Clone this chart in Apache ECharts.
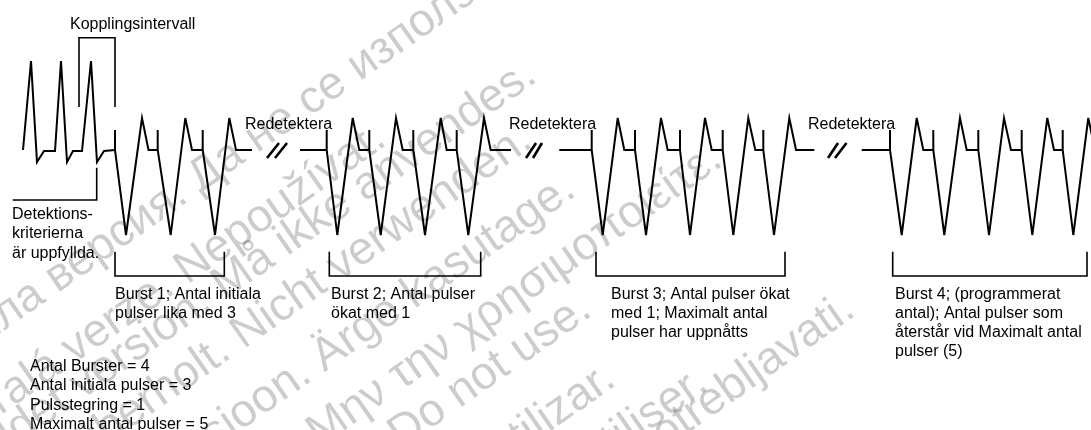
<!DOCTYPE html>
<html><head><meta charset="utf-8">
<style>html,body{margin:0;padding:0;background:#fff}#c{width:1091px;height:430px}</style>
<script src="https://cdn.jsdelivr.net/npm/echarts@6/dist/echarts.min.js"></script>
</head><body><div id="c"></div>
<script>
// time (x) and amplitude (y, baseline = 0) values
const intrinsicTrace = [[23,0],[31,89],[37,-12],[44,-1],[55,-1],[61,89],[67,-12],[73,-1],[82,-1],[91,89],[97,-12],[104,-1],[115,0]];
const burst1Trace = [[115,0],[115,20],[115,0],[126,-85],[142,32],[148.5,0],[157.7,0],[157.7,20],[157.7,0],[170.7,-85],[185.3,32],[192,0],[202.7,0],[202.7,20],[202.7,0],[215,-85],[229.3,32],[236,0],[252,0]];
const burst2Trace = [[300,0],[326.7,0],[326.7,20],[326.7,0],[337.3,-85],[352.7,32],[359.3,0],[369.3,0],[369.3,20],[369.3,0],[380.7,-85],[396,32],[402.7,0],[413.3,0],[413.3,20],[413.3,0],[425,-85],[440.7,32],[446.7,0],[456.7,0],[456.7,20],[456.7,0],[468.3,-85],[484,32],[490.7,0],[511,0]];
const burst3Trace = [[559.3,0],[591.7,0],[591.7,20],[591.7,0],[602.7,-85],[617.7,32],[624.3,0],[635,0],[635,20],[635,0],[646,-85],[661,32],[667.7,0],[680,0],[680,20],[680,0],[690,-85],[705,32],[711.7,0],[722.7,0],[722.7,20],[722.7,0],[733.3,-85],[748.3,32],[755.3,0],[763.3,0],[763.3,20],[763.3,0],[774,-85],[789.3,32],[796,0],[814.3,0]];
const burst4Trace = [[861.7,0],[890,0],[890,20],[890,0],[901.7,-85],[916.7,32],[923.3,0],[933.3,0],[933.3,20],[933.3,0],[944.3,-85],[960,32],[966.7,0],[978.3,0],[978.3,20],[978.3,0],[989,-85],[1004,32],[1011,0],[1021.7,0],[1021.7,20],[1021.7,0],[1032.3,-85],[1047.3,32],[1054,0],[1062.7,0],[1062.7,20],[1062.7,0],[1073.3,-85],[1088.3,32],[1095,0]];
const breakStrokes = [
  [[267,-8],[279,7]],[[275,-8],[287,7]],
  [[526,-8],[536,7]],[[533,-8],[542,7]],
  [[828,-8],[838,7]],[[835,-8],[846.5,7]]
];
const couplingBracket = [[79,43],[79,112.3],[115,112.3],[115,43]];
const detectionBracket = [[96.7,-17.7],[96.7,-50],[12.7,-50]];
const burstRanges = [[115,224.3],[329.3,480.7],[596,785],[892.7,1087]];
const burstBracketLevels = [-101.7,-126];

const burstTexts = [
  "Burst 1; Antal initiala\npulser lika med 3",
  "Burst 2; Antal pulser\nökat med 1",
  "Burst 3; Antal pulser ökat\nmed 1; Maximalt antal\npulser har uppnåtts",
  "Burst 4; (programmerat\nantal); Antal pulser som\nåterstår vid Maximalt antal\npulser (5)"
];
const settingsText = "Antal Burster = 4\nAntal initiala pulser = 3\nPulsstegring = 1\nMaximalt antal pulser = 5";
const detectionText = "Detektions-\nkriterierna\när uppfyllda.";
const couplingText = "Kopplingsintervall";
const redetectText = "Redetektera";
const watermarkLines = [
  "Остаряла версия. Да не се използва.",
  "Zastaralá verze. Nepoužívat.",
  "Forældet version. Må ikke anvendes.",
  "Version überholt. Nicht verwenden.",
  "Aegunud versioon. Ärge kasutage.",
  "Παλιά έκδοση. Μην την χρησιμοποιείτε.",
  "Outdated version. Do not use.",
  "Versión obsoleta. No utilizar.",
  "Version périmée. Ne pas utiliser.",
  "Zastarjela verzija. Nemojte upotrebljavati."
];

// ---- layout / style ----
const FONT = '16px "Liberation Sans", Arial, sans-serif';
const WM_FONT = '46px "Liberation Sans", Arial, sans-serif';
// watermark line start offsets (layout, pixels)
const wmShift = [[-10,5],[-10,25],[-25,15],[-25,15],[-5,18],[35,0],[30,0],[50,10],[48,18],[15,8]];
const chart = echarts.init(document.getElementById('c'), null, {renderer:'canvas'});
const lineSeries = (data, w) => ({
  type:'line', data, symbol:'none', animation:false, silent:true, clip:true,
  lineStyle:{color:'#000', width:w, join:'miter', miterLimit:6}, z:5
});
const series = [];
[intrinsicTrace, burst1Trace, burst2Trace, burst3Trace, burst4Trace].forEach(t => series.push(lineSeries(t, 2)));
breakStrokes.forEach(s => series.push(lineSeries(s, 2.6)));
series.push(lineSeries(couplingBracket, 1.6));
series.push(lineSeries(detectionBracket, 1.6));
burstRanges.forEach(([a,b]) => series.push(lineSeries([[a,burstBracketLevels[0]],[a,burstBracketLevels[1]],[b,burstBracketLevels[1]],[b,burstBracketLevels[0]]], 1.6)));

const graphic = [];
const ang = 35*Math.PI/180;
watermarkLines.forEach((t,i) => {
  graphic.push({type:'text', z:-10, x:-120 + 29.3*i + wmShift[i][0], y:404 + 41.8*i + wmShift[i][1], rotation:ang, silent:true,
    style:{text:t, font:WM_FONT, fill:'rgba(0,0,0,0.2)', textAlign:'left', textVerticalAlign:'middle'}});
});
const label = (text, x, y) => ({type:'text', z:100, x, y, silent:true,
  style:{text, font:FONT, fill:'#000', textAlign:'left', textVerticalAlign:'top', lineHeight:19.3}});
const burstTextX = [115, 331, 611, 895];
burstTexts.forEach((t,i) => graphic.push(label(t, burstTextX[i], 284.5)));
graphic.push(label(settingsText, 30, 357));
graphic.push(label(detectionText, 12, 205));
graphic.push(label(couplingText, 70, 14.5));
[245, 509, 808].forEach(x => graphic.push(label(redetectText, x, 114.5)));

chart.setOption({
  animation:false,
  backgroundColor:'#fff',
  grid:{left:0,right:0,top:0,bottom:0},
  xAxis:{type:'value', min:0, max:1091, show:false},
  yAxis:{type:'value', min:-280, max:150, show:false},
  series, graphic
});
</script></body></html>
